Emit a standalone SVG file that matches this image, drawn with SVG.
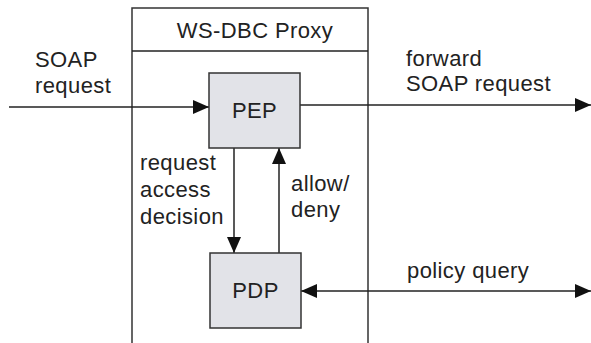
<svg xmlns="http://www.w3.org/2000/svg" width="591" height="343" viewBox="0 0 591 343">
<defs>
<marker id="ah" viewBox="0 0 16 14" refX="16" refY="7" markerWidth="16" markerHeight="14" markerUnits="userSpaceOnUse" orient="auto-start-reverse">
<path d="M0,0 L16,7 L0,14 Z" fill="#111"/>
</marker>
<style>
text{font-family:"Liberation Sans",Arial,sans-serif;font-size:22px;fill:#222;letter-spacing:0.4px}
.box{fill:#e2e3e8;stroke:#333;stroke-width:1.5}
.ln{stroke:#222;stroke-width:1.5;fill:none}
.frame{stroke:#333;stroke-width:1.5;fill:#fff}
</style>
</defs>
<rect width="591" height="343" fill="#fff"/>
<g id="proxy">
<path class="frame" d="M132,345 V8 H368 V345"/>
<line class="ln" x1="132" y1="51" x2="368" y2="51"/>
<text x="255" y="38" text-anchor="middle">WS-DBC Proxy</text>
</g>
<g id="connectors">
<line class="ln" x1="9" y1="107" x2="209" y2="107" marker-end="url(#ah)"/>
<line class="ln" x1="300" y1="105" x2="591" y2="105" marker-end="url(#ah)"/>
<line class="ln" x1="234" y1="148" x2="234" y2="253" marker-end="url(#ah)"/>
<line class="ln" x1="279" y1="253" x2="279" y2="148" marker-end="url(#ah)"/>
<line class="ln" x1="301" y1="291" x2="591" y2="291" marker-start="url(#ah)" marker-end="url(#ah)"/>
<text x="35" y="67">SOAP</text>
<text x="35" y="93">request</text>
<text x="406" y="66">forward</text>
<text x="406" y="91">SOAP request</text>
<text x="140" y="170">request</text>
<text x="140" y="197">access</text>
<text x="140" y="224">decision</text>
<text x="291" y="191">allow/</text>
<text x="291" y="217">deny</text>
<text x="407" y="278">policy query</text>
</g>
<g id="pep">
<rect class="box" x="209" y="73" width="91" height="75"/>
<text x="254.5" y="118" text-anchor="middle">PEP</text>
</g>
<g id="pdp">
<rect class="box" x="210" y="253" width="91" height="75"/>
<text x="255.5" y="298" text-anchor="middle">PDP</text>
</g>
</svg>
